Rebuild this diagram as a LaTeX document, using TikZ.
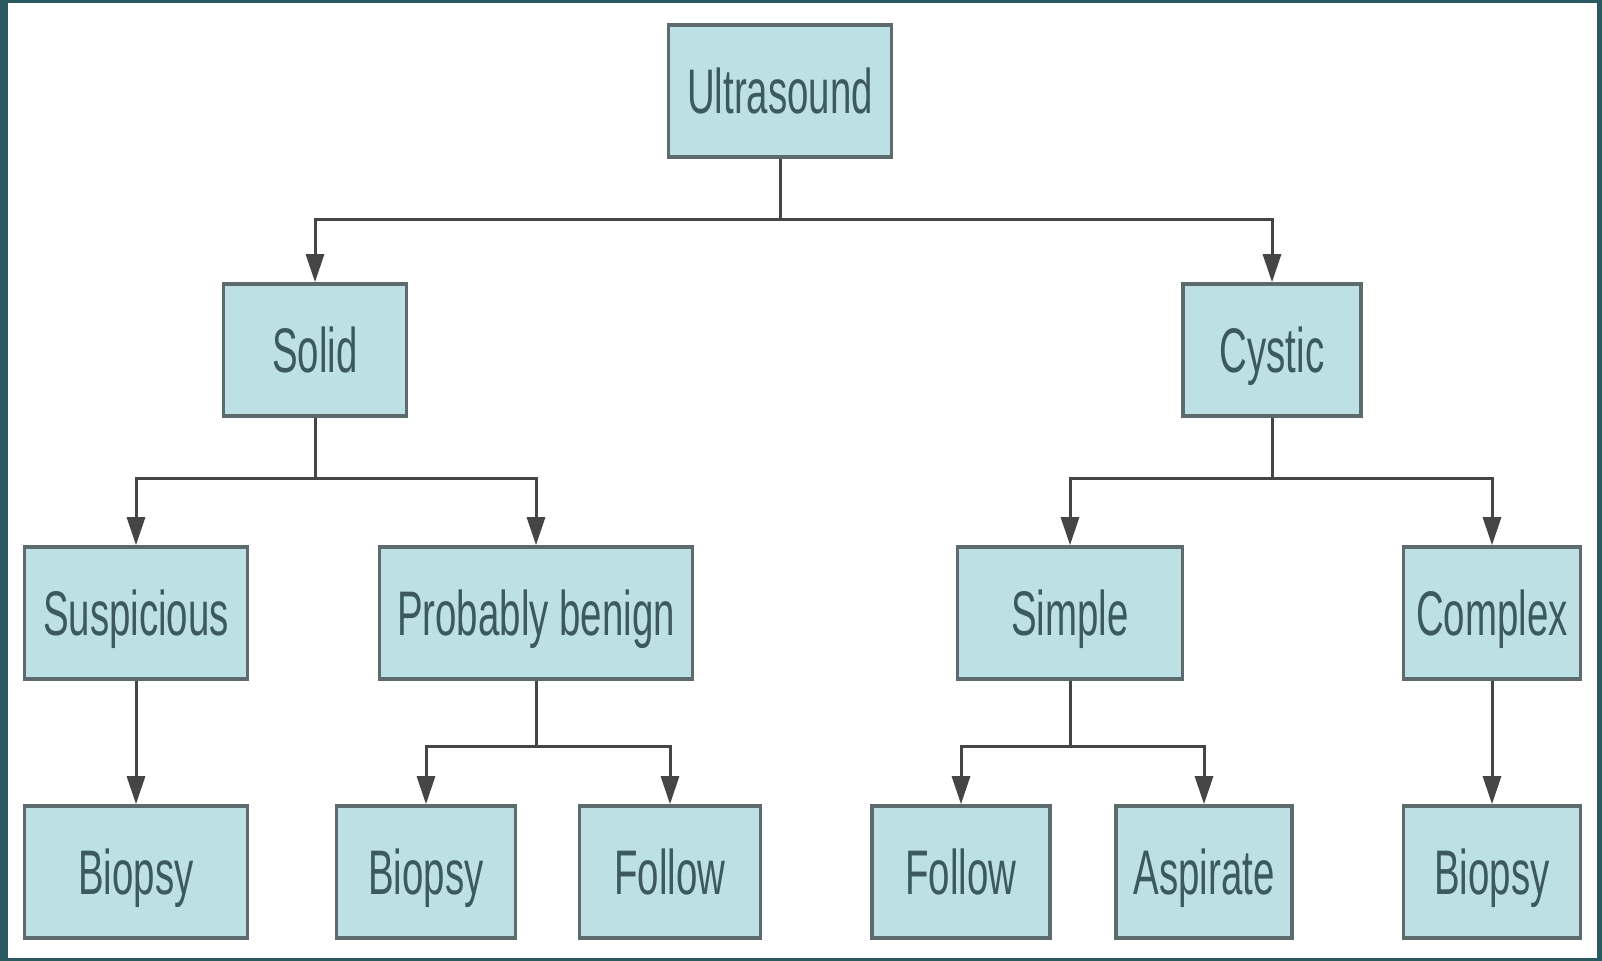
\documentclass[tikz,border=0pt]{standalone}
\usepackage{fontspec}
\usepackage{tikz}
\usetikzlibrary{arrows.meta}
\newfontfamily\boxfont{Liberation Sans}[FakeStretch=0.61]
\definecolor{bde0e6}{rgb}{0.74,0.88,0.9}
\definecolor{5f6a6c}{rgb}{0.37,0.42,0.43}
\definecolor{3b585e}{rgb}{0.23,0.35,0.37}
\definecolor{2b5a60}{rgb}{0.17,0.35,0.38}
\definecolor{454545}{rgb}{0.27,0.27,0.27}

\begin{document}
\begin{tikzpicture}[x=0.5pt,y=-0.5pt,
    box/.style={draw=5f6a6c,line width=1.8pt,fill=bde0e6,minimum height=66pt,inner sep=0pt,
        text height=22.5pt,text depth=0pt,
        text=3b585e,font=\boxfont\fontsize{31.5}{36}\selectfont},
    link/.style={line width=1.5pt,color=454545,-{Triangle[width=9pt,length=14pt]}}]
            \useasboundingbox (0,0) rectangle (1602,961);
            \fill [2b5a60] (0,0) rectangle (1602,961);
            \fill [white] (8,3) rectangle (1597,958);
            % levels
            \node [box,minimum width=111.5pt] (ultrasound) at (780,91) {Ultrasound};
            \node [box,minimum width=91.5pt] (solid) at (315,350) {Solid};
            \node [box,minimum width=89pt] (cystic) at (1272,350) {Cystic};
            \node [box,minimum width=111.5pt] (suspicious) at (136,613) {Suspicious};
            \node [box,minimum width=156.5pt] (benign) at (536,613) {Probably benign};
            \node [box,minimum width=112.5pt] (simple) at (1070,613) {Simple};
            \node [box,minimum width=88.5pt] (complex) at (1492,613) {Complex};
            \node [box,minimum width=111.5pt] (biopsyA) at (136,872) {Biopsy};
            \node [box,minimum width=89.5pt] (biopsyB) at (426,872) {Biopsy};
            \node [box,minimum width=90.5pt] (followA) at (670,872) {Follow};
            \node [box,minimum width=89pt] (followB) at (961,872) {Follow};
            \node [box,minimum width=88pt] (aspirate) at (1204,872) {Aspirate};
            \node [box,minimum width=88.5pt] (biopsyC) at (1492,872) {Biopsy};
            % connectors
            \draw [link] (ultrasound.south) -- ++(0,61) -| (solid.north);
            \draw [link] (ultrasound.south) -- ++(0,61) -| (cystic.north);
            \draw [link] (solid.south) -- ++(0,61) -| (suspicious.north);
            \draw [link] (solid.south) -- ++(0,61) -| (benign.north);
            \draw [link] (cystic.south) -- ++(0,61) -| (simple.north);
            \draw [link] (cystic.south) -- ++(0,61) -| (complex.north);
            \draw [link] (suspicious.south) -- (biopsyA.north);
            \draw [link] (benign.south) -- ++(0,66) -| (biopsyB.north);
            \draw [link] (benign.south) -- ++(0,66) -| (followA.north);
            \draw [link] (simple.south) -- ++(0,66) -| (followB.north);
            \draw [link] (simple.south) -- ++(0,66) -| (aspirate.north);
            \draw [link] (complex.south) -- (biopsyC.north);
            \end{tikzpicture}
\end{document}
